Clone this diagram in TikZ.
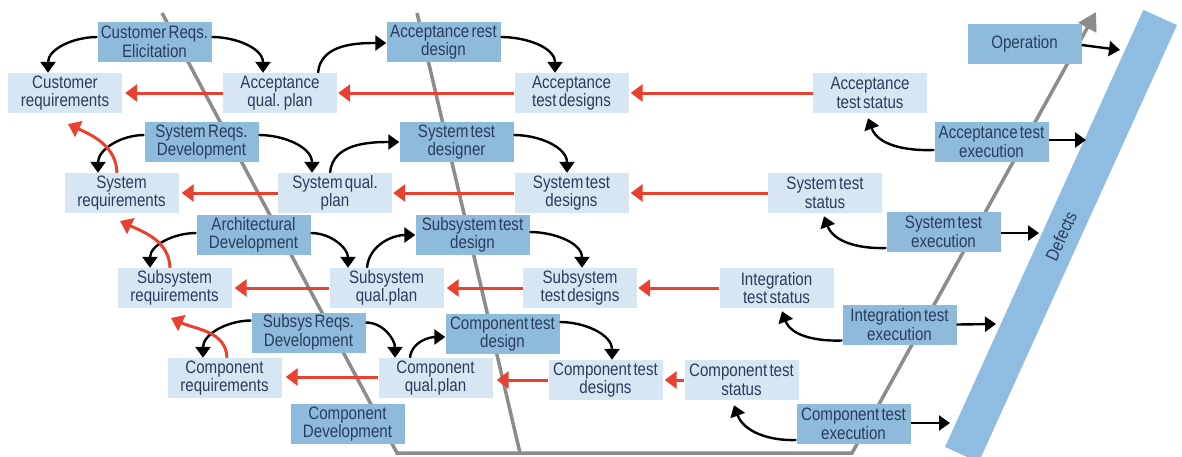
\documentclass[tikz,border=0pt]{standalone}
\usepackage{fontspec}
\setmainfont{Liberation Sans}[WordSpace=0.55, FakeStretch=0.84]
\usetikzlibrary{arrows.meta}
\definecolor{boxdark}{HTML}{8EBADC}
\definecolor{boxlight}{HTML}{D6E6F2}
\definecolor{boxtext}{HTML}{2A3D5C}
\definecolor{flowred}{HTML}{E8412F}
\definecolor{vgray}{HTML}{8C8C8C}
\definecolor{defectbar}{HTML}{8FBDE1}

\begin{document}
\begin{tikzpicture}[x=1pt,y=-1pt,
  box/.style={minimum width=114pt, minimum height=40pt, inner sep=0pt,
    align=center, text=boxtext, font=\fontsize{18}{18.5}\selectfont},
  actbox/.style={box, fill=boxdark},
  workbox/.style={box, fill=boxlight},
  flow/.style={line width=2.4pt, -{Triangle[width=15pt,length=11pt]}},
  feedback/.style={draw=flowred, line width=3pt,
    -{Triangle[width=17pt,length=12pt]}},
  vline/.style={draw=vgray, line width=3.5pt, line join=miter}]

\useasboundingbox (0,0) rectangle (1182,456);

% the V backbone
\coordinate (vA) at (162,13);
\coordinate (vB) at (397,453);
\coordinate (vC) at (852,453);
\coordinate (vD) at (1096,12);
\coordinate (mA) at (417,13);
\coordinate (mB) at (520,453);
\draw[vline, -{Triangle[width=20pt,length=18pt]}] (vA) -- (vB) -- (vC) -- (vD);
\draw[vline] (mA) -- (mB);

% defects bar with its label
\node[fill=defectbar, rotate=65.6, minimum width=480pt, minimum height=37pt,
  inner sep=0pt, text=boxtext, font=\fontsize{18}{18.5}\selectfont]
  (bar) at (1061,236) {Defects};

% activities
\node[actbox] (CRE)  at (154.5,42)  {Customer Reqs.\\Elicitation};
\node[actbox] (ARD)  at (443.5,42)  {Acceptance rest\\design};
\node[actbox] (OP)   at (1024.5,44) {Operation};
\node[actbox] (SRD)  at (201.5,142) {System Reqs.\\Development};
\node[actbox] (STDr) at (456.5,142) {System test\\designer};
\node[actbox] (ATE)  at (991.5,142) {Acceptance test\\execution};
\node[actbox] (AD)   at (253.5,235) {Architectural\\Development};
\node[actbox] (SSTD) at (472.5,235) {Subsystem test\\design};
\node[actbox] (STE)  at (943.5,232) {System test\\execution};
\node[actbox] (SSRD) at (308.5,332.5) {Subsys Reqs.\\Development};
\node[actbox] (CTD)  at (502.5,334) {Component test\\design};
\node[actbox] (ITE)  at (899.5,324.5) {Integration test\\execution};
\node[actbox] (CD)   at (347.5,424) {Component\\Development};
\node[actbox] (CTE)  at (853.5,424) {Component test\\execution};

% work products
\node[workbox] (CR)    at (65,93)    {Customer\\requirements};
\node[workbox] (AQP)   at (280,93)   {Acceptance\\qual. plan};
\node[workbox] (ATD)   at (571.5,93) {Acceptance\\test designs};
\node[workbox] (ATS)   at (870,93)   {Acceptance\\test status};
\node[workbox] (SR)    at (121.5,193) {System\\requirements};
\node[workbox] (SQP)   at (335,193)  {System qual.\\plan};
\node[workbox] (STDs)  at (571.5,193) {System test\\designs};
\node[workbox] (STS)   at (825,193)  {System test\\status};
\node[workbox] (SSR)   at (174.5,288) {Subsystem\\requirements};
\node[workbox] (SSQP)  at (386.5,288) {Subsystem\\qual.plan};
\node[workbox] (SSTDs) at (580,288)  {Subsystem\\test designs};
\node[workbox] (ITS)   at (776.5,288) {Integration\\test status};
\node[workbox] (CR2)   at (224.5,378) {Component\\requirements};
\node[workbox] (CQP)   at (435.5,378) {Component\\qual.plan};
\node[workbox] (CTDs)  at (605.5,380) {Component test\\designs};
\node[workbox] (CTS)   at (741.5,380) {Component test\\status};

% activities producing work products
\draw[flow] ([yshift=5pt]CRE.west) to[out=180,in=90] ([xshift=-17pt]CR.north);
\draw[flow] ([yshift=5pt]CRE.east) to[out=0,in=90] ([xshift=-17pt]AQP.north);
\draw[flow] ([xshift=38pt]AQP.north) to[out=85,in=180] ([yshift=-1pt]ARD.west);
\draw[flow] ([yshift=5pt]ARD.east) to[out=0,in=90] ([xshift=-16.5pt]ATD.north);

\draw[flow] ([yshift=7pt]SRD.west) to[out=180,in=90] ([xshift=-23.5pt]SR.north);
\draw[flow] ([yshift=7pt]SRD.east) to[out=0,in=90] ([xshift=-23pt]SQP.north);
\draw[flow] ([xshift=-5pt]SQP.north) to[out=85,in=180] (STDr.west);
\draw[flow] ([yshift=7pt]STDr.east) to[out=0,in=90] ([xshift=-4.5pt]STDs.north);

\draw[flow] ([yshift=2pt]AD.west) to[out=180,in=90] ([xshift=-24.5pt]SSR.north);
\draw[flow] ([yshift=2pt]AD.east) to[out=0,in=90] ([xshift=-38.5pt]SSQP.north);
\draw[flow] ([xshift=-19.5pt]SSQP.north) to[out=85,in=180] (SSTD.west);
\draw[flow] ([yshift=3pt]SSTD.east) to[out=0,in=90] ([xshift=2pt]SSTDs.north);

\draw[flow] ([yshift=12pt]SSRD.west) to[out=180,in=90] ([xshift=-21.5pt]CR2.north);
\draw[flow] ([yshift=10pt]SSRD.east) to[out=0,in=90] ([xshift=-40.5pt]CQP.north);
\draw[flow] ([xshift=-25.5pt]CQP.north) to[out=85,in=180] ([yshift=-3pt]CTD.west);
\draw[flow] ([yshift=12pt]CTD.east) to[out=0,in=90] ([xshift=6.5pt]CTDs.north);

% test executions reporting status
\draw[flow] ([yshift=-8pt]ATE.west) to[out=182,in=-70] ([xshift=-2pt,yshift=-5pt]ATS.south);
\draw[flow] ([yshift=-16pt]STE.west) to[out=182,in=-70] ([xshift=-1pt,yshift=-3pt]STS.south);
\draw[flow] ([yshift=-16pt]ITE.west) to[out=182,in=-70] ([xshift=5.5pt,yshift=-3pt]ITS.south);
\draw[flow] ([yshift=-16pt]CTE.west) to[out=182,in=-70] ([xshift=-7.5pt,yshift=-5pt]CTS.south);

% defects
\coordinate (d0) at (1120,50);
\coordinate (d1) at (1086,140);
\coordinate (d2) at (1039,233);
\coordinate (d3) at (996,324);
\coordinate (d4) at (950,423);
\draw[flow] ([yshift=-1pt]OP.east) -- (d0);
\draw[flow] ([yshift=2pt]ATE.east) -- (d1);
\draw[flow] ([yshift=-1pt]STE.east) -- (d2);
\draw[flow] (ITE.east) -- (d3);
\draw[flow] ([yshift=1pt]CTE.east) -- (d4);

% verification feedback
\draw[feedback] (AQP.west) -- ([xshift=3pt]CR.east);
\draw[feedback] (ATD.west) -- ([xshift=1pt]AQP.east);
\draw[feedback] (ATS.west) -- ([xshift=2pt]ATD.east);

\draw[feedback] (SQP.west) -- ([xshift=3pt]SR.east);
\draw[feedback] (STDs.west) -- ([xshift=1pt]SQP.east);
\draw[feedback] (STS.west) -- ([xshift=2pt]STDs.east);

\draw[feedback] (SSQP.west) -- ([xshift=3pt]SSR.east);
\draw[feedback] (SSTDs.west) -- ([xshift=3pt]SSQP.east);
\draw[feedback] (ITS.west) -- ([xshift=1pt]SSTDs.east);

\draw[feedback] ([yshift=1pt]CQP.west) -- ([xshift=4pt,yshift=1pt]CR2.east);
\draw[feedback] (CTDs.west) -- ([xshift=4pt]CQP.east |- CTDs.west);
\draw[feedback] (CTS.west) -- ([xshift=2pt]CTDs.east);

\coordinate (rq1) at (68,124);
\coordinate (rq2) at (120,221);
\coordinate (rq3) at (171,318);
\draw[feedback] ([xshift=-4.5pt]SR.north) to[out=92,in=-25] (rq1);
\draw[feedback] ([xshift=-4.5pt]SSR.north) to[out=92,in=-25] (rq2);
\draw[feedback] ([xshift=2.5pt]CR2.north) to[out=92,in=-25] (rq3);

\end{tikzpicture}
\end{document}
